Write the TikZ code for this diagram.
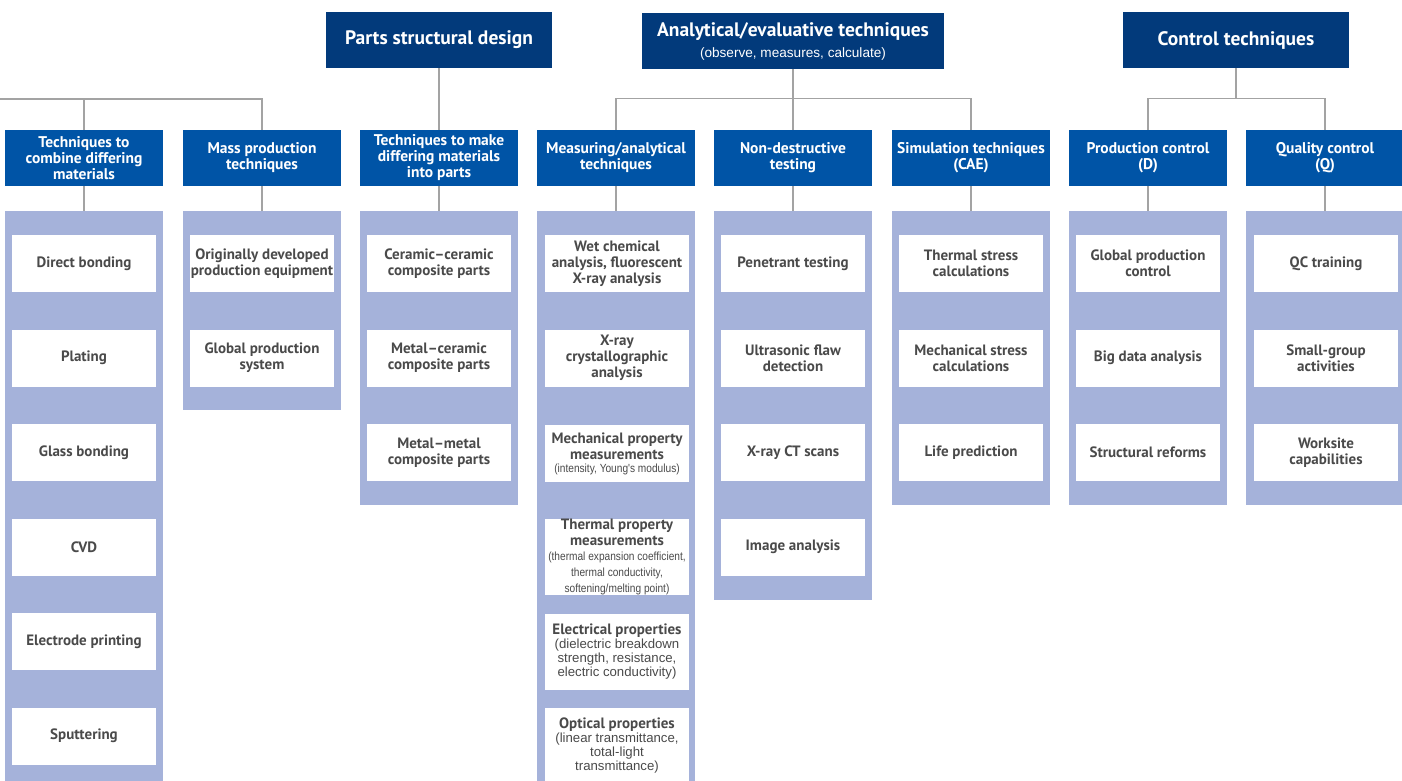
\documentclass[tikz,border=0pt]{standalone}
\usepackage{fontspec}
\setmainfont{PT Sans}
\newfontfamily\narrowfont[FakeStretch=0.86]{Liberation Sans}
\newfontfamily\plainfont{Liberation Sans}
\definecolor{navy}{HTML}{023A7B}
\definecolor{midblue}{HTML}{0054A6}
\definecolor{lav}{HTML}{A5B2DA}
\definecolor{wiregray}{HTML}{A3A3A3}
\definecolor{ink}{HTML}{4A4A4A}
\newcommand\paren[1]{{\narrowfont\mdseries\fontsize{11.8}{12}\selectfont #1}}
\newcommand\parenwide[1]{{\plainfont\mdseries\fontsize{13.2}{13}\selectfont #1}}
\begin{document}
\begin{tikzpicture}[x=1pt,y=-1pt,
  topbox/.style={fill=navy, text=white, minimum height=56pt, inner sep=0pt, align=center, font=\bfseries\fontsize{19.5}{21}\selectfont},
  catbox/.style={fill=midblue, text=white, minimum width=158pt, minimum height=56pt, inner sep=0pt, align=center, font=\bfseries\fontsize{15.5}{16}\selectfont},
  panel/.style={fill=lav, minimum width=158pt, inner sep=0pt, anchor=north},
  item/.style={fill=white, text=ink, minimum width=144pt, minimum height=57pt, inner sep=0pt, align=center, font=\bfseries\fontsize{15}{16}\selectfont},
  wire/.style={draw=wiregray, line width=1.4pt}]
\clip (0,0) rectangle (1402,781);
\fill[white] (0,0) rectangle (1402,781);

\node[topbox, minimum width=226pt] (design) at (439,40) {Parts structural design};
\node[topbox, minimum width=302pt] (analysis) at (793,41) {Analytical/evaluative techniques\\[0pt]{\plainfont\mdseries\fontsize{13.6}{14}\selectfont (observe, measures, calculate)}};
\node[topbox, minimum width=226pt] (control) at (1236,40) {Control techniques};

\node[catbox] (cat1) at (84,158) {Techniques to\\combine differing\\materials};
\node[catbox] (cat2) at (262,158) {Mass production\\techniques};
\node[catbox] (cat3) at (439,158) {Techniques to make\\differing materials\\into parts};
\node[catbox] (cat4) at (616,158) {Measuring/analytical\\techniques};
\node[catbox] (cat5) at (793,158) {Non-destructive\\testing};
\node[catbox] (cat6) at (971,158) {Simulation techniques\\(CAE)};
\node[catbox] (cat7) at (1148,158) {Production control\\(D)};
\node[catbox] (cat8) at (1325,158) {Quality control\\(Q)};

\coordinate (offleft) at (0,99);
\draw[wire] (offleft) -| (cat2.north);
\draw[wire] (cat1.north) -- (cat1.north |- offleft);
\draw[wire] (design.south) -- (cat3.north);
\draw[wire] (cat4.north) -- ++(0,-31) -| (cat6.north);
\draw[wire] (analysis.south) -- (cat5.north);
\draw[wire] (cat7.north) -- ++(0,-31) -| (cat8.north);
\draw[wire] (control.south) -- (control.south |- offleft);

\node[panel, minimum height=575pt] (pan1) at (84,211) {};
\node[panel, minimum height=199pt] (pan2) at (262,211) {};
\node[panel, minimum height=294pt] (pan3) at (439,211) {};
\node[panel, minimum height=575pt] (pan4) at (616,211) {};
\node[panel, minimum height=389pt] (pan5) at (793,211) {};
\node[panel, minimum height=294pt] (pan6) at (971,211) {};
\node[panel, minimum height=294pt] (pan7) at (1148,211) {};
\node[panel, minimum height=294pt] (pan8) at (1325,211) {};
\foreach \i in {1,...,8}
  \draw[wire] (cat\i.south) -- (pan\i.north);

\node[item] (bond1) at (84,263.5) {Direct bonding};
\node[item] (bond2) at (84,358) {Plating};
\node[item] (bond3) at (84,452.5) {Glass bonding};
\node[item] (bond4) at (84,547) {CVD};
\node[item] (bond5) at (84,641.5) {Electrode printing};
\node[item] (bond6) at (84,736) {Sputtering};

\node[item] (mass1) at (262,263.5) {Originally developed\\production equipment};
\node[item] (mass2) at (262,358) {Global production\\system};

\node[item] (comp1) at (439,263.5) {Ceramic--ceramic\\composite parts};
\node[item] (comp2) at (439,358) {Metal--ceramic\\composite parts};
\node[item] (comp3) at (439,452.5) {Metal--metal\\composite parts};

\node[item] (meas1) at (617,263.5) {Wet chemical\\analysis, fluorescent\\X-ray analysis};
\node[item] (meas2) at (617,358) {X-ray\\crystallographic\\analysis};
\node[item] (meas3) at (617,453.5) {Mechanical property\\measurements\\[-3pt]\paren{(intensity, Young's modulus)}};
\node[item, minimum height=76pt] (meas4) at (617,557) {Thermal property\\measurements\\[-1pt]\paren{(thermal expansion coefficient,}\\[0pt]\paren{thermal conductivity,}\\[0pt]\paren{softening/melting point)}};
\node[item, minimum height=76pt] (meas5) at (617,652) {Electrical properties\\[-2pt]\parenwide{(dielectric breakdown}\\[-2pt]\parenwide{strength, resistance,}\\[-2pt]\parenwide{electric conductivity)}};
\node[item, minimum height=76pt] (meas6) at (617,746) {Optical properties\\[-2pt]\parenwide{(linear transmittance,}\\[-2pt]\parenwide{total-light}\\[-2pt]\parenwide{transmittance)}};

\node[item] (ndt1) at (793,263.5) {Penetrant testing};
\node[item] (ndt2) at (793,358) {Ultrasonic flaw\\detection};
\node[item] (ndt3) at (793,452.5) {X-ray CT scans};
\node[item] (ndt4) at (793,547) {Image analysis};

\node[item] (sim1) at (971,263.5) {Thermal stress\\calculations};
\node[item] (sim2) at (971,358) {Mechanical stress\\calculations};
\node[item] (sim3) at (971,452.5) {Life prediction};

\node[item] (prod1) at (1148,263.5) {Global production\\control};
\node[item] (prod2) at (1148,358) {Big data analysis};
\node[item] (prod3) at (1148,452.5) {Structural reforms};

\node[item] (qual1) at (1326,263.5) {QC training};
\node[item] (qual2) at (1326,358) {Small-group\\activities};
\node[item] (qual3) at (1326,452.5) {Worksite\\capabilities};
\end{tikzpicture}
\end{document}
